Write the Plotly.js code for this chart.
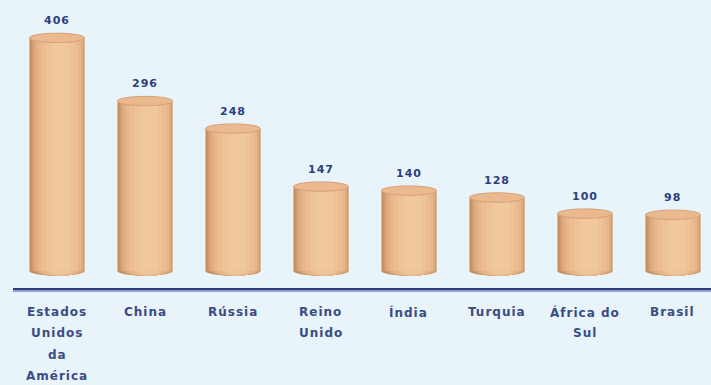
<!DOCTYPE html>
<html>
<head>
<meta charset="utf-8">
<script src="https://cdn.plot.ly/plotly-3.0.1.min.js"></script>
<style>
html,body{margin:0;padding:0;background:#e8f4fa;}
#chart{width:711px;height:385px;}
.annotation-text{letter-spacing:1px;}
</style>
</head>
<body>
<div id="chart"></div>
<script>
// Data
const categories = ["Estados Unidos da América","China","Rússia","Reino Unido","Índia","Turquia","África do Sul","Brasil"];
const labelLines = [["Estados","Unidos","da","América"],["China"],["Rússia"],["Reino","Unido"],["Índia"],["Turquia"],["África do","Sul"],["Brasil"]];
const values = [406,296,248,147,140,128,100,98];

// Cylinder shading bands (outer -> inner), highlight slightly right of centre
const bandWidths = [0.625,0.60,0.56,0.50,0.42,0.32,0.20];
const bandShift  = [0,0.008,0.016,0.024,0.03,0.036,0.04];
const bandColors = ["#c08b5e","#d19c6f","#dfab7e","#e7b688","#ebbd90","#eec297","#f1c79d"];
const capHalf = 8.2;

const xIdx = categories.map((c,i)=>i);
const traces = bandWidths.map((w,k)=>({
  type:'bar', x:xIdx, y:values, width:w, offset:-bandWidths[0]/2 + (bandWidths[0]-w)/2 + bandShift[k],
  marker:{color:bandColors[k], line:{width:0}},
  hoverinfo:'skip', showlegend:false
}));

const shapes = [];
bandWidths.forEach((w,k)=>{
  values.forEach((v,i)=>{
    const c = i + bandShift[k];
    shapes.push({type:'circle', xref:'x', yref:'y', layer:'below',
      x0:c-w/2, x1:c+w/2, y0:-capHalf, y1:capHalf,
      fillcolor:bandColors[Math.max(0,k-1)], line:{width:0}});
  });
});
values.forEach((v,i)=>{
  shapes.push({type:'circle', xref:'x', yref:'y', layer:'above',
    x0:i-bandWidths[0]/2, x1:i+bandWidths[0]/2, y0:v-capHalf, y1:v+capHalf,
    fillcolor:'#ebb98e', line:{width:1, color:'#d6a07a'}});
});
// light under-stroke of the baseline
shapes.push({type:'line', xref:'paper', yref:'paper', ysizemode:'pixel', yanchor:0,
  x0:0, x1:1, y0:-3, y1:-3, line:{color:'#8e9fcb', width:2}});

const annotations = [];
values.forEach((v,i)=>{
  annotations.push({x:i, y:v, xref:'x', yref:'y', text:String(v), showarrow:false,
    yanchor:'bottom', yshift:9,
    font:{family:'DejaVu Sans', size:11, color:'#2d3f7e', weight:'bold'}});
});
labelLines.forEach((lines,i)=>{
  lines.forEach((t,j)=>{
    annotations.push({x:i, y:0, xref:'x', yref:'paper', text:t, showarrow:false,
      yanchor:'top', yshift:-(15+21.3*j),
      font:{family:'DejaVu Sans', size:12, color:'#3a4b85', weight:'bold'}});
  });
});

const layout = {
  width:711, height:385,
  margin:{l:13, r:0, t:0, b:97},
  paper_bgcolor:'#e8f4fa', plot_bgcolor:'#e8f4fa',
  barmode:'overlay',
  xaxis:{range:[-0.5, 7.432], showticklabels:false, ticks:'', showgrid:false, zeroline:false,
    showline:true, linecolor:'#2f3e7a', linewidth:3, fixedrange:true},
  yaxis:{range:[-29.6, 472], visible:false, showgrid:false, zeroline:false, fixedrange:true},
  shapes:shapes, annotations:annotations, showlegend:false
};

Plotly.newPlot('chart', traces, layout, {displayModeBar:false, staticPlot:true});
</script>
</body>
</html>
